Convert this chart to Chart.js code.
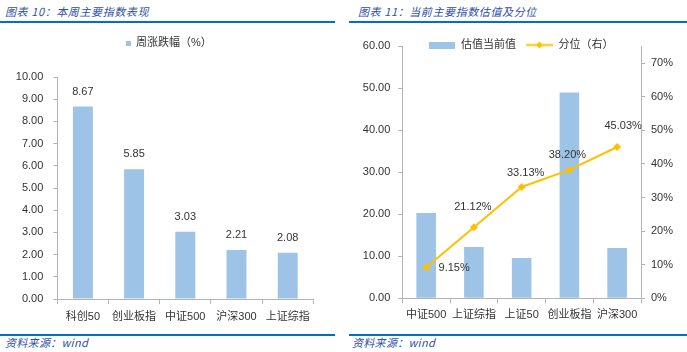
<!DOCTYPE html>
<html><head><meta charset="utf-8">
<script src="https://cdn.jsdelivr.net/npm/chart.js@4.4.1/dist/chart.umd.min.js"></script>
<style>
html,body{margin:0;padding:0;background:#fff;width:687px;height:352px;overflow:hidden;}
body{position:relative;font-family:"Liberation Sans","Noto Sans CJK SC",sans-serif;}
.title{position:absolute;top:4px;font-family:"Noto Sans CJK SC",sans-serif;font-style:italic;font-size:11px;line-height:14px;color:#2F4FA8;letter-spacing:0.6px;white-space:nowrap;}
.rule{position:absolute;height:2px;background:#0070C0;}
.src{position:absolute;top:336px;font-family:"Noto Sans CJK SC",sans-serif;font-style:italic;font-size:11px;line-height:12px;color:#2F4FA8;letter-spacing:0.3px;white-space:nowrap;}
canvas{position:absolute;}
</style></head>
<body>
<div class="title" style="left:5px">图表 10：本周主要指数表现</div>
<div class="title" style="left:358px">图表 11：当前主要指数估值及分位</div>
<div class="rule" style="left:0;width:335px;top:21px"></div>
<div class="rule" style="left:349px;width:338px;top:21px"></div>
<canvas id="c1" width="340" height="300" style="left:0;top:28px"></canvas>
<canvas id="c2" width="342" height="300" style="left:345px;top:28px"></canvas>
<div class="rule" style="left:0;width:335px;top:334px;height:1.5px"></div>
<div class="rule" style="left:349px;width:338px;top:334px;height:1.5px"></div>
<div class="src" style="left:5px">资料来源：wind</div>
<div class="src" style="left:352px">资料来源：wind</div>
<script>
// ---- data ----
const leftCategories = ['科创50', '创业板指', '中证500', '沪深300', '上证综指'];
const weeklyChange = [8.67, 5.85, 3.03, 2.21, 2.08];
const rightCategories = ['中证500', '上证综指', '上证50', '创业板指', '沪深300'];
const valuation = [20.3, 12.2, 9.6, 49.0, 12.0];
const percentile = [0.0915, 0.2112, 0.3313, 0.3820, 0.4503];
const leftSeriesName = '周涨跌幅（%）';
const barSeriesName = '估值当前值';
const lineSeriesName = '分位（右）';

// ---- styles ----
const BAR = '#9DC3E6';
const LINE = '#FFC000';
const AX = '#B4B4B4';
const TXT = '#333333';
const FONT = {family: '"Liberation Sans","Noto Sans CJK SC",sans-serif', size: 11};

function swatchRect(w, h) {
  const c = document.createElement('canvas'); c.width = w; c.height = h;
  const g = c.getContext('2d'); g.fillStyle = BAR; g.fillRect(0, 0, w, h); return c;
}
function swatchLine(w, h) {
  const c = document.createElement('canvas'); c.width = w; c.height = h;
  const g = c.getContext('2d'); g.strokeStyle = LINE; g.lineWidth = 2;
  g.beginPath(); g.moveTo(0, h / 2); g.lineTo(w, h / 2); g.stroke();
  g.fillStyle = LINE; g.beginPath();
  const cx = w / 2, cy = h / 2, r = 3.5;
  g.moveTo(cx, cy - r); g.lineTo(cx + r, cy); g.lineTo(cx, cy + r); g.lineTo(cx - r, cy); g.closePath(); g.fill();
  return c;
}

// fixes the space the legend takes above the plot and shifts it sideways
const legendBox = {
  id: 'legendBox',
  afterInit(chart) {
    const lg = chart.legend; if (!lg) return;
    const origFit = lg.fit.bind(lg);
    const origDraw = lg.draw.bind(lg);
    lg.fit = function () { origFit(); this.height = chart.options.plugins.legendBox.height; };
    lg.draw = function () {
      const o = chart.options.plugins.legendBox;
      const b = this.bottom;
      this.bottom = this.top + 40;
      this.ctx.save(); this.ctx.translate(o.dx, 0);
      origDraw();
      this.ctx.restore();
      this.bottom = b;
    };
  }
};

const valueLabels = {
  id: 'valueLabels',
  afterDatasetsDraw(chart) {
    const ctx = chart.ctx;
    chart.data.datasets.forEach((ds, di) => {
      const lab = ds.valueLabel; if (!lab) return;
      const meta = chart.getDatasetMeta(di);
      meta.data.forEach((el, i) => {
        const off = lab.offsets[i];
        ctx.save();
        ctx.font = '11px "Liberation Sans","Noto Sans CJK SC",sans-serif';
        ctx.fillStyle = TXT; ctx.textAlign = 'center'; ctx.textBaseline = 'middle';
        ctx.fillText(lab.format(ds.data[i]), el.x + off[0], el.y + off[1]);
        ctx.restore();
      });
    });
  }
};

function legendLabels(swatches, boxW, boxH, pad) {
  return {
    usePointStyle: true, pointStyleWidth: boxW, boxHeight: boxH, padding: pad, font: FONT, color: TXT,
    sort: (a, b) => a.datasetIndex - b.datasetIndex,
    generateLabels(chart) {
      const items = Chart.defaults.plugins.legend.labels.generateLabels(chart);
      items.forEach(it => { it.pointStyle = swatches[it.datasetIndex]; });
      return items;
    }
  };
}

// ---- left chart ----
new Chart(document.getElementById('c1'), {
  type: 'bar',
  data: {
    labels: leftCategories,
    datasets: [{
      label: leftSeriesName, data: weeklyChange, backgroundColor: BAR,
      categoryPercentage: 1, barPercentage: 0.39,
      valueLabel: {format: v => v.toFixed(2), offsets: [[0, -15], [0, -15], [0, -15], [0, -15], [0, -15]]}
    }]
  },
  options: {
    responsive: false, animation: false, devicePixelRatio: 1,
    layout: {padding: {left: 0, right: 26.7, top: 0, bottom: 0}},
    plugins: {
      tooltip: {enabled: false},
      legendBox: {height: 49, dx: 12},
      legend: {labels: legendLabels([swatchRect(5, 5)], 5, 5, 9.5)}
    },
    scales: {
      x: {
        offset: true,
        grid: {display: true, offset: true, drawOnChartArea: false, drawTicks: true, tickLength: 5, color: AX},
        border: {color: AX},
        ticks: {font: FONT, color: TXT, padding: 6, maxRotation: 0, autoSkip: false},
        afterFit(s) { s.height = 29; }
      },
      y: {
        min: 0, max: 10,
        grid: {drawOnChartArea: false, tickLength: 4, color: AX},
        border: {color: AX},
        ticks: {stepSize: 1, font: FONT, color: TXT, padding: 10, callback: v => Number(v).toFixed(2)},
        afterFit(s) { s.width = 57.3; }
      }
    }
  },
  plugins: [legendBox, valueLabels]
});

// ---- right chart ----
new Chart(document.getElementById('c2'), {
  type: 'bar',
  data: {
    labels: rightCategories,
    datasets: [{
      type: 'bar', label: barSeriesName, data: valuation, backgroundColor: BAR, yAxisID: 'y', order: 2,
      categoryPercentage: 1, barPercentage: 0.41
    }, {
      type: 'line', label: lineSeriesName, data: percentile, yAxisID: 'y1', order: 1,
      borderColor: LINE, backgroundColor: LINE, borderWidth: 2,
      pointStyle: 'rectRot', pointRadius: 4, pointBorderWidth: 0, tension: 0,
      valueLabel: {format: v => (v * 100).toFixed(2) + '%', offsets: [[28, 0], [-1, -20], [4, -14], [-2, -15], [6, -21]]}
    }]
  },
  options: {
    responsive: false, animation: false, devicePixelRatio: 1,
    layout: {padding: {left: 10, right: 0, top: 1.5, bottom: 0}},
    plugins: {
      tooltip: {enabled: false},
      legendBox: {height: 16.8, dx: 0},
      legend: {labels: legendLabels([swatchRect(26, 7), swatchLine(27, 9)], 27, 9, 10)}
    },
    scales: {
      x: {
        offset: true,
        grid: {display: true, offset: true, drawOnChartArea: false, drawTicks: true, tickLength: 5, color: AX},
        border: {color: AX},
        ticks: {font: FONT, color: TXT, padding: 5, maxRotation: 0, autoSkip: false},
        afterFit(s) { s.height = 29.7; }
      },
      y: {
        position: 'left', min: 0, max: 60,
        grid: {drawOnChartArea: false, tickLength: 4, color: AX},
        border: {color: AX},
        ticks: {stepSize: 10, font: FONT, color: TXT, padding: 8, callback: v => Number(v).toFixed(2)},
        afterFit(s) { s.width = 47.3; }
      },
      y1: {
        position: 'right', min: 0, max: 0.75,
        grid: {drawOnChartArea: false, tickLength: 4, color: AX},
        border: {color: AX},
        ticks: {stepSize: 0.1, includeBounds: false, font: FONT, color: TXT, padding: 6, callback: v => Math.round(v * 100) + '%'},
        afterFit(s) { s.width = 46; }
      }
    }
  },
  plugins: [legendBox, valueLabels]
});
</script>
</body></html>
